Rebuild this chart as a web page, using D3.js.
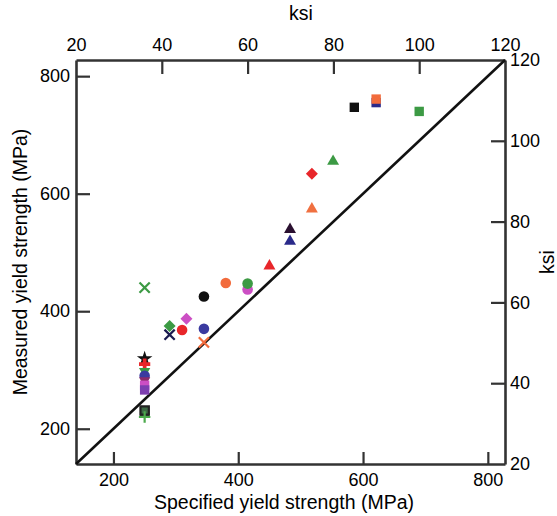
<!DOCTYPE html>
<html>
<head>
<meta charset="utf-8">
<script src="https://cdn.jsdelivr.net/npm/d3@7"></script>
<style>
  html, body { margin: 0; padding: 0; background: #fff; }
  svg { display: block; }
  text { font-family: "Liberation Sans", Arial, sans-serif; fill: #000; }
</style>
</head>
<body>
<div id="chart"></div>
<script>
// ---- data ----
const specifiedMPa = [250, 250, 250, 250, 250, 250, 250, 250, 250, 250, 250,
                      290, 290, 310, 317, 345, 345, 345, 380, 415, 415,
                      450, 483, 483, 518, 518, 552, 586, 621, 621, 690];
const measuredMPa  = [440, 319, 310, 298, 290, 282, 274, 266, 229, 231, 220,
                      360, 375, 368, 387, 370, 347, 425, 448, 437, 447,
                      477, 539, 519, 574, 634, 655, 747, 755, 761, 740];
const markerSymbol = ["times", "star", "cross", "triDown", "circle", "triDown", "square", "square", "square", "openSquare", "plus",
                      "times", "diamond", "circle", "diamond", "circle", "times", "circle", "circle", "circle", "circle",
                      "triangle", "triangle", "triangle", "triangle", "diamond", "triangle", "square", "square", "square", "square"];
const markerColor  = ["#3c9a44", "#111111", "#e8262a", "#3c9a44", "#3a3aa0", "#8a2a6a", "#cc4fc4", "#7d3fb0", "#3d6a45", "#222222", "#4caa4c",
                      "#1a1a50", "#3c9a44", "#e8262a", "#cc4fc4", "#3a3aa0", "#f26b3c", "#111111", "#f26b3c", "#cc4fc4", "#3c9a44",
                      "#e8262a", "#2a1030", "#2a2a8a", "#f07040", "#e8262a", "#3c9a44", "#111111", "#2a2a8a", "#f26b3c", "#3c9a44"];
const mpaTicks = [200, 400, 600, 800];
const ksiTicks = [20, 40, 60, 80, 100, 120];
const mpaDomain = [140, 827.5];
const ksiDomain = [20, 120];

// ---- layout ----
const W = 557, H = 516;
const mLeft = 76, mRight = 505, mTop = 60, mBottom = 464;

const svg = d3.select("#chart").append("svg").attr("width", W).attr("height", H);

const x = d3.scaleLinear().domain(mpaDomain).range([mLeft, mRight]);
const y = d3.scaleLinear().domain(mpaDomain).range([mBottom, mTop]);
const xk = d3.scaleLinear().domain(ksiDomain).range([mLeft, mRight]);
const yk = d3.scaleLinear().domain(ksiDomain).range([mBottom, mTop]);

function styleAxis(g) {
  g.selectAll(".domain").attr("stroke", "#333").attr("stroke-width", 2.6);
  g.selectAll(".tick line").attr("stroke", "#333").attr("stroke-width", 2.2);
  g.selectAll("text").attr("font-size", 18).attr("font-family", "Liberation Sans, Arial, sans-serif").attr("fill", "#000");
}

svg.append("g").attr("transform", `translate(0,${mBottom})`)
  .call(d3.axisBottom(x).tickValues(mpaTicks).tickSizeInner(-12).tickSizeOuter(0).tickPadding(9))
  .call(styleAxis);
svg.append("g").attr("transform", `translate(${mLeft},0)`)
  .call(d3.axisLeft(y).tickValues(mpaTicks).tickSizeInner(-14).tickSizeOuter(0).tickPadding(6))
  .call(styleAxis);
svg.append("g").attr("transform", `translate(0,${mTop})`)
  .call(d3.axisTop(xk).tickValues(ksiTicks).tickSizeInner(-14).tickSizeOuter(0).tickPadding(9))
  .call(styleAxis);
svg.append("g").attr("transform", `translate(${mRight},0)`)
  .call(d3.axisRight(yk).tickValues(ksiTicks).tickSizeInner(-14).tickSizeOuter(0).tickPadding(5))
  .call(styleAxis);

// hide end ticks that coincide with the frame
svg.selectAll(".tick").filter(d => d === 20 || d === 120).select("line").remove();

// diagonal 1:1 line
svg.append("line")
  .attr("x1", x(mpaDomain[0])).attr("y1", y(mpaDomain[0]))
  .attr("x2", x(mpaDomain[1])).attr("y2", y(mpaDomain[1]))
  .attr("stroke", "#111").attr("stroke-width", 2.6);

// markers
const symTypes = {
  square: d3.symbolSquare, openSquare: d3.symbolSquare, circle: d3.symbolCircle,
  triangle: d3.symbolTriangle, triDown: d3.symbolTriangle, diamond: d3.symbolSquare,
  star: d3.symbolStar, cross: d3.symbolCross, times: d3.symbolTimes, plus: d3.symbolPlus
};
const symSize = {
  square: 88, openSquare: 70, circle: 88, triangle: 62, triDown: 55, diamond: 72,
  star: 75, cross: 70, times: 70, plus: 45
};
const symRotate = { triDown: 180, diamond: 45 };
const strokeSyms = new Set(["times", "plus", "openSquare"]);

svg.append("g").selectAll("path")
  .data(d3.range(specifiedMPa.length))
  .join("path")
  .attr("transform", i => `translate(${x(specifiedMPa[i])},${y(measuredMPa[i])}) rotate(${symRotate[markerSymbol[i]] || 0})`)
  .attr("d", i => d3.symbol(symTypes[markerSymbol[i]], symSize[markerSymbol[i]])())
  .attr("fill", i => strokeSyms.has(markerSymbol[i]) ? "none" : markerColor[i])
  .attr("stroke", i => strokeSyms.has(markerSymbol[i]) ? markerColor[i] : "none")
  .attr("stroke-width", i => strokeSyms.has(markerSymbol[i]) ? 2.2 : 0);

// axis titles
svg.append("text").attr("x", 284).attr("y", 509).attr("text-anchor", "middle")
  .attr("font-size", 19.5).text("Specified yield strength (MPa)");
svg.append("text").attr("transform", "translate(27,262) rotate(-90)").attr("text-anchor", "middle")
  .attr("font-size", 19.5).text("Measured yield strength (MPa)");
svg.append("text").attr("x", 301).attr("y", 20).attr("text-anchor", "middle")
  .attr("font-size", 19.5).text("ksi");
svg.append("text").attr("transform", "translate(554,262) rotate(-90)").attr("text-anchor", "middle")
  .attr("font-size", 19.5).text("ksi");
</script>
</body>
</html>
